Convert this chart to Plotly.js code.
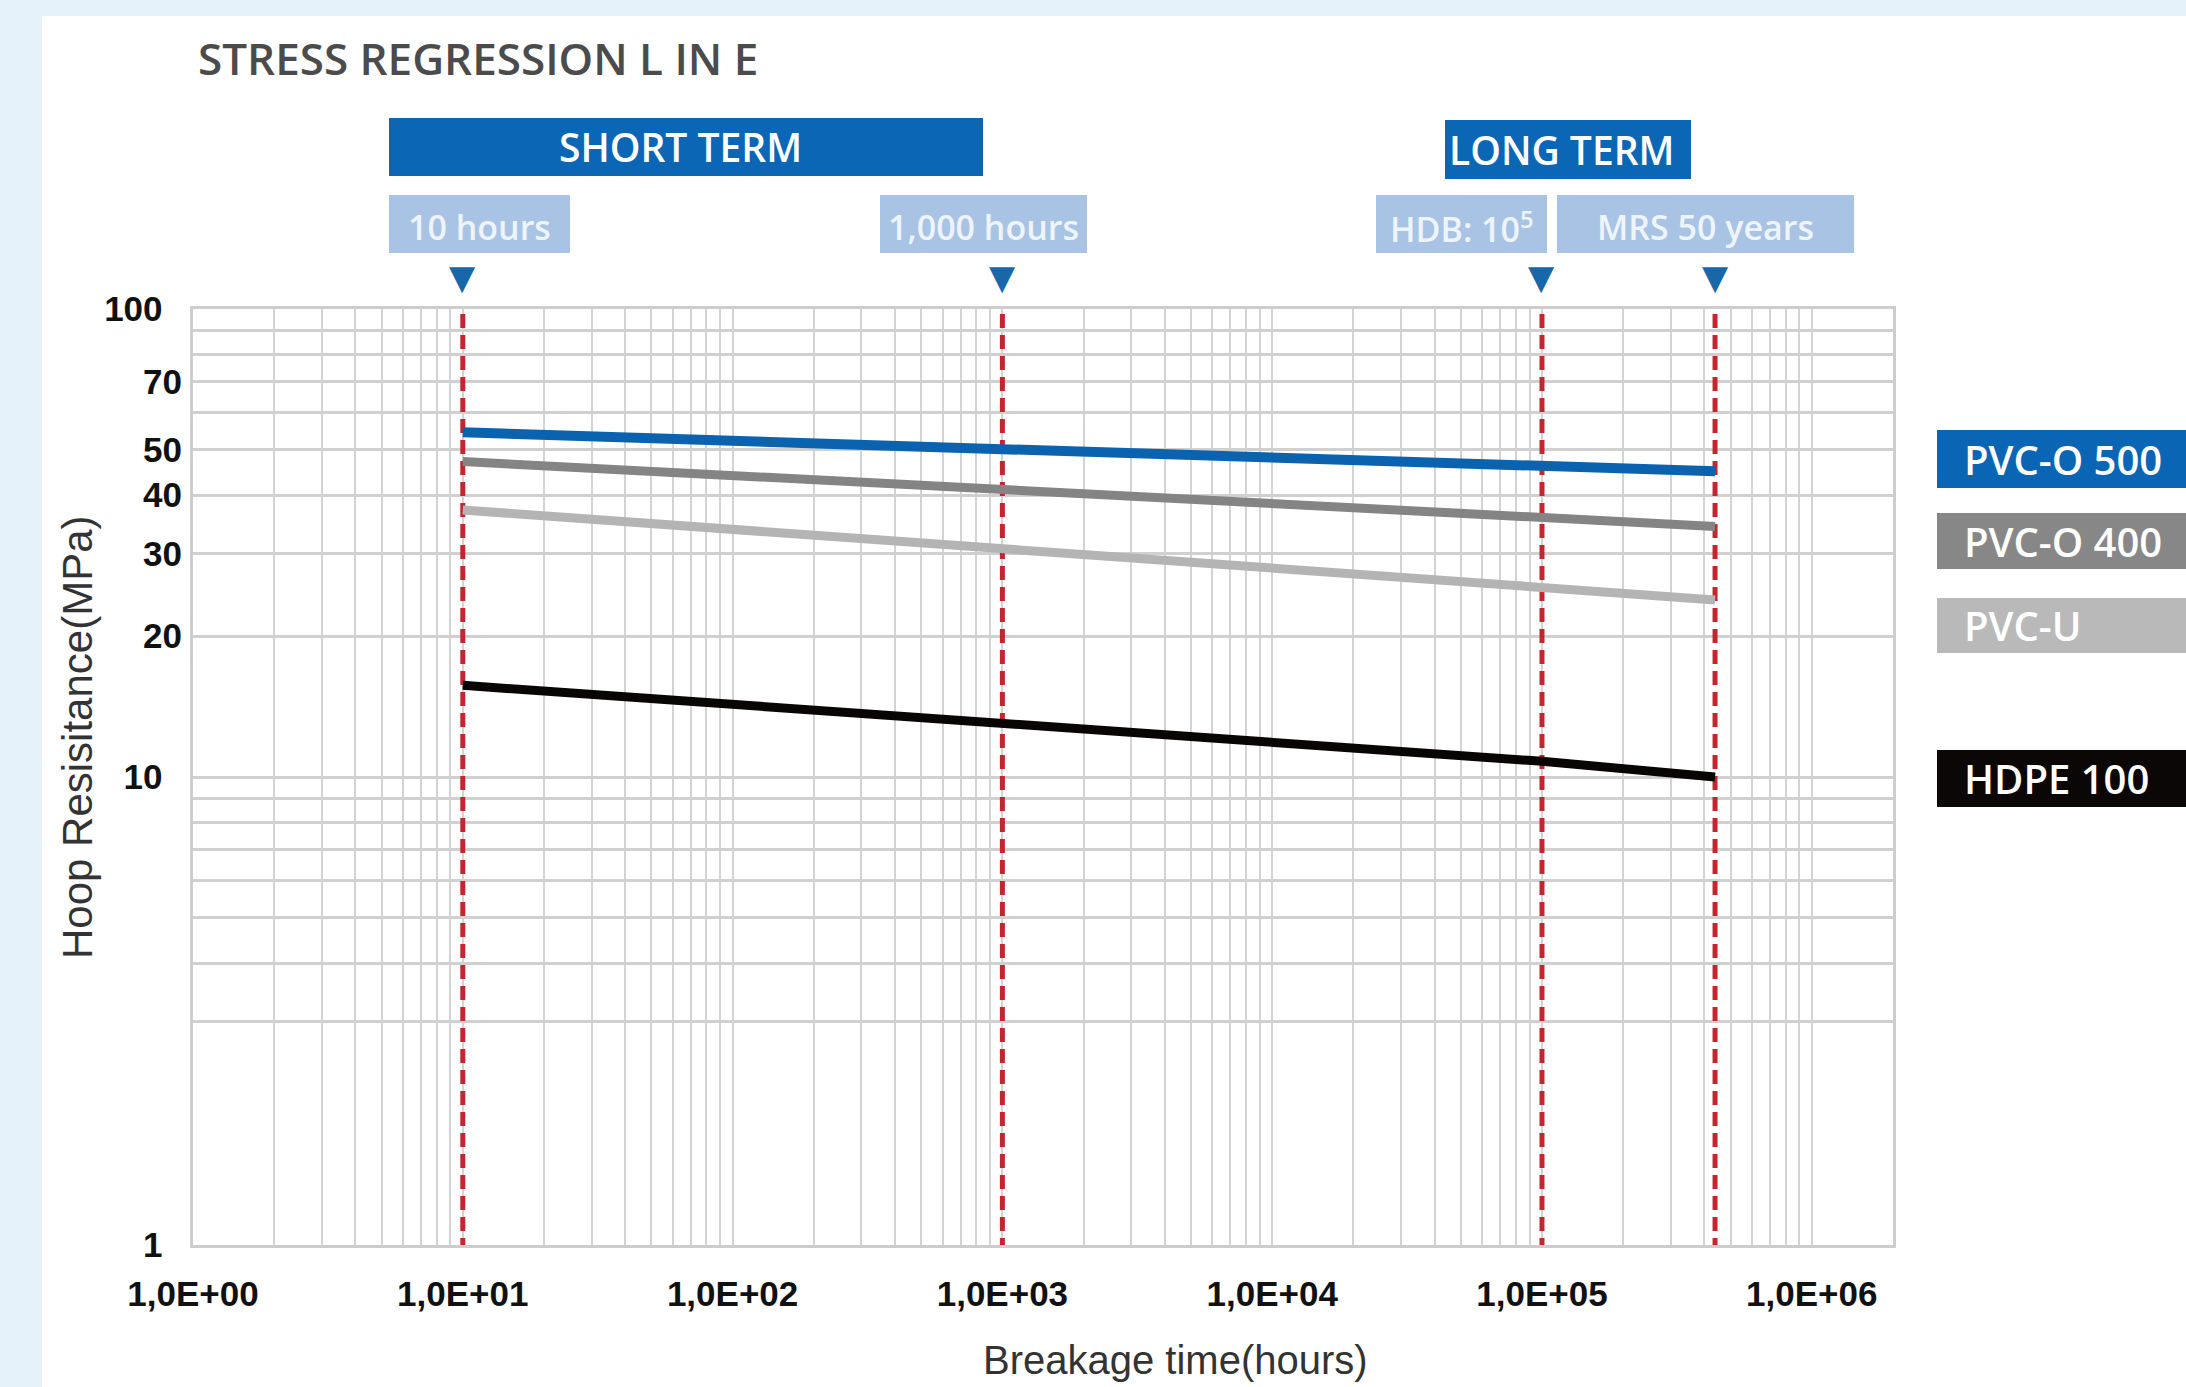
<!DOCTYPE html>
<html><head><meta charset="utf-8">
<script src="https://cdn.plot.ly/plotly-3.0.1.min.js"></script>
<style>html,body{margin:0;padding:0;background:#e5f2f9;} #chart{width:2186px;height:1387px;}</style>
</head><body><div id="chart"></div>
<script>
// ---------------- data ----------------
const hours = [10, 1000, 100000, 438000];
const pvcO500 = [54.5, 50.2, 46.3, 45.0];
const pvcO400 = [47.2, 41.0, 35.6, 34.3];
const pvcU = [37.2, 30.6, 25.3, 23.9];
const hdpe100 = [15.7, 13.0, 10.8, 10.0];
const seriesNames = ['PVC-O 500', 'PVC-O 400', 'PVC-U', 'HDPE 100'];
const milestoneHours = [10, 1000, 100000, 438000];
const milestoneLabels = ['10 hours', '1,000 hours', 'HDB: 10<sup>5</sup>', 'MRS 50 years'];
const phaseLabels = ['SHORT TERM', 'LONG TERM'];
const xTickVals = [1, 10, 100, 1000, 10000, 100000, 1000000];
const xTickText = ['1,0E+00', '1,0E+01', '1,0E+02', '1,0E+03', '1,0E+04', '1,0E+05', '1,0E+06'];
const yTickVals = [1, 10, 20, 30, 40, 50, 70, 100];
const yTickText = ['1\u00a0\u00a0', '10\u00a0\u00a0', '20', '30', '40', '50', '70', '100\u00a0\u00a0'];
const yMinorVals = [3, 4, 5, 6, 7, 8, 9, 60, 80, 90];
const xTitle = 'Breakage time(hours)';
const yTitle = 'Hoop Resisitance(MPa)';
const chartTitle = 'STRESS REGRESSION L IN E';

// ---------------- geometry / style ----------------
const W = 2186, H = 1387;
const PL = 193, PR = 1893, PT = 309, PB = 1245;
const xRange = [0, Math.log10(2e6)];
const yRange = [0, 2];
const decadeY = (PB - PT) / (yRange[1] - yRange[0]);
const px = (x) => (x - PL) / (PR - PL);
const py = (y) => (PB - y) / (PB - PT);

const xMinor = [];
for (let d = 0; d <= 6; d++) for (let m = 2; m <= 9; m++) { const v = m * Math.pow(10, d); if (v < 2e6) xMinor.push(v); }

const lineColors = ['#0b63b0', '#848484', '#b4b4b4', '#0a0505'];
const lineWidths = [10, 9, 9, 9];
const series = [pvcO500, pvcO400, pvcU, hdpe100];

const traces = [];
// red dashed milestone lines
milestoneHours.forEach(h => {
  traces.push({x: [h, h], y: [Math.pow(10, yRange[0] - 7 / decadeY), Math.pow(10, yRange[1])],
    mode: 'lines', line: {color: '#c1272d', width: 5, dash: '14px,7px'},
    cliponaxis: false, showlegend: false, hoverinfo: 'skip'});
});
series.forEach((s, i) => {
  traces.push({x: hours, y: s, name: seriesNames[i], mode: 'lines',
    line: {color: lineColors[i], width: lineWidths[i]}, showlegend: false});
});

const shapes = [];
const annotations = [];
// white panel
shapes.push({type: 'rect', xref: 'paper', yref: 'paper', x0: px(42), x1: px(W + 20), y0: py(H + 20), y1: py(16),
  fillcolor: '#ffffff', line: {width: 0}, layer: 'below'});

function box(x0, x1, y0, y1, color) {
  shapes.push({type: 'rect', xref: 'paper', yref: 'paper', x0: px(x0), x1: px(x1), y0: py(y1), y1: py(y0),
    fillcolor: color, line: {width: 0}, layer: 'above'});
}
function label(text, x, y, size, color, anchor) {
  annotations.push({text: text, xref: 'paper', yref: 'paper', x: px(x), y: py(y), xanchor: anchor || 'center',
    yanchor: 'middle', showarrow: false, font: {family: 'Open Sans', size: size, weight: 600, color: color}});
}
// phase boxes
const phaseBoxes = [[389, 983, 118, 176], [1445, 1691, 120, 179]];
phaseBoxes.forEach((b, i) => { box(b[0], b[1], b[2], b[3], '#0b66b5'); label(phaseLabels[i], (b[0] + b[1]) / 2 - 6, (b[2] + b[3]) / 2, 39, '#ffffff'); });
// milestone boxes
const msBoxes = [[389, 570, 195, 253], [880, 1087, 195, 253], [1376, 1547, 195, 253], [1557, 1854, 195, 253]];
msBoxes.forEach((b, i) => { box(b[0], b[1], b[2], b[3], '#a8c3e4'); label(milestoneLabels[i], (b[0] + b[1]) / 2, (b[2] + b[3]) / 2 + 3, 34, '#eef4fc'); });
// triangles pointing at milestone lines (placed through the x axis scale)
milestoneHours.forEach(h => {
  annotations.push({text: '\u25BC', xref: 'x', yref: 'paper', x: Math.log10(h), y: py(277), xanchor: 'center', yanchor: 'middle',
    showarrow: false, font: {family: 'DejaVu Sans', size: 34, color: '#1767a9'}});
});
// legend boxes
const legendBoxes = [[430, 488], [513, 569], [598, 653], [750, 807]];
const legendColors = ['#0a66b5', '#878787', '#b9b9b9', '#0b0707'];
legendBoxes.forEach((b, i) => { box(1937, W + 20, b[0], b[1], legendColors[i]); label(seriesNames[i], 1962, (b[0] + b[1]) / 2, 40, '#ffffff', 'left'); });
// axis titles
annotations.push({text: xTitle, xref: 'paper', yref: 'paper', x: px(1175), y: py(1360), xanchor: 'center', yanchor: 'middle',
  showarrow: false, font: {family: 'Liberation Sans', size: 40, color: '#333333'}});
annotations.push({text: yTitle, xref: 'paper', yref: 'paper', x: px(77), y: py(737), xanchor: 'center', yanchor: 'middle',
  textangle: -90, showarrow: false, font: {family: 'Liberation Sans', size: 42, color: '#333333'}});

const tickFont = {family: 'Liberation Sans', size: 35, weight: 700, color: '#111111'};
const layout = {
  width: W, height: H,
  paper_bgcolor: '#e5f2f9', plot_bgcolor: '#ffffff',
  margin: {l: PL, r: W - PR, t: PT, b: H - PB, pad: 0},
  showlegend: false,
  title: {text: chartTitle, xref: 'paper', x: px(198), xanchor: 'left',
    yref: 'container', y: 1 - 60 / H, yanchor: 'middle',
    font: {family: 'Open Sans', size: 44, weight: 600, color: '#4b4b4b'}},
  xaxis: {type: 'log', range: xRange, tickmode: 'array', tickvals: xTickVals, ticktext: xTickText,
    ticks: '', ticklabelstandoff: 16, tickfont: tickFont,
    showgrid: true, gridcolor: '#d3d3d3', gridwidth: 2,
    minor: {tickmode: 'array', tickvals: xMinor, showgrid: true, gridcolor: '#d3d3d3', gridwidth: 2, ticks: ''},
    showline: true, mirror: true, linecolor: '#cdcdcd', linewidth: 3, zeroline: false},
  yaxis: {type: 'log', range: yRange, tickmode: 'array', tickvals: yTickVals, ticktext: yTickText,
    ticks: '', ticklabelstandoff: 1, tickfont: tickFont,
    showgrid: true, gridcolor: '#d0d0d0', gridwidth: 3,
    minor: {tickmode: 'array', tickvals: yMinorVals, showgrid: true, gridcolor: '#d0d0d0', gridwidth: 3, ticks: ''},
    showline: true, mirror: true, linecolor: '#cdcdcd', linewidth: 3, zeroline: false},
  shapes: shapes,
  annotations: annotations
};
Plotly.newPlot('chart', traces, layout, {displayModeBar: false, staticPlot: true});
</script></body></html>
